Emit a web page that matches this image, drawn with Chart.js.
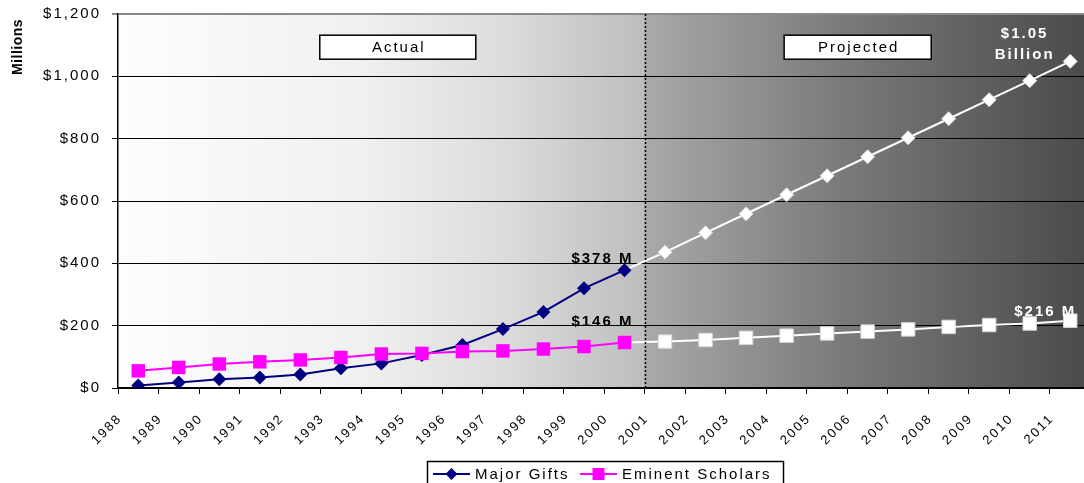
<!DOCTYPE html>
<html>
<head>
<meta charset="utf-8">
<script src="https://cdn.jsdelivr.net/npm/chart.js@4.4.1/dist/chart.umd.min.js"></script>
<style>
  html, body { margin: 0; padding: 0; background: #fff; }
  #wrap { width: 1084px; height: 483px; position: relative; }
</style>
</head>
<body>
<div id="wrap"><canvas id="chart"></canvas></div>
<script>
// tick labels on the x axis (one per tick boundary)
const years = ['1988','1989','1990','1991','1992','1993','1994','1995','1996','1997','1998','1999',
               '2000','2001','2002','2003','2004','2005','2006','2007','2008','2009','2010','2011'];
// $ millions, one value per year slot
const majorGifts = [8, 18, 28, 34, 43, 63, 79, 106, 138, 189, 244, 320, 378,
                    436, 498, 559, 620, 681, 742, 803, 864, 925, 986, 1048];
const eminentScholars = [55, 66, 77, 84, 90, 98, 109, 111, 117, 119, 125, 133, 146,
                         149, 154, 161, 168, 175, 181, 188, 196, 202, 207, 216];
const lastActual = 12;   // 2000 is the last actual value
const yMax = 1200, yStep = 200;

const FONT = 'Liberation Sans, Arial, sans-serif';

const pts = (arr, from, to) => arr.map((v, i) => (i >= from && i <= to) ? { x: i + 0.5, y: v } : null).filter(Boolean);

const decor = {
  id: 'decor',
  beforeDraw(chart) {
    const { ctx, chartArea: a } = chart;
    ctx.letterSpacing = '2px';
    const g = ctx.createLinearGradient(a.left, 0, a.right, 0);
    g.addColorStop(0, '#fdfdfd');
    g.addColorStop(0.25, '#f0f0f0');
    g.addColorStop(0.4, '#dcdcdc');
    g.addColorStop(0.544, '#bdbdbd');
    g.addColorStop(0.546, '#a9a9a9');
    g.addColorStop(0.75, '#7a7a7a');
    g.addColorStop(1, '#4b4b4b');
    ctx.save();
    ctx.fillStyle = g;
    ctx.fillRect(a.left, a.top, a.right - a.left, a.bottom - a.top);
    ctx.restore();
  },
  afterDatasetsDraw(chart) {
    const { ctx, chartArea: a, scales: { x, y } } = chart;
    ctx.save();
    ctx.letterSpacing = '2px';
    // divider between actual and projected
    const dx = Math.round(x.getPixelForValue(lastActual + 1)) + 0.5;
    ctx.strokeStyle = '#000';
    ctx.lineWidth = 1.5;
    ctx.setLineDash([2, 2]);
    ctx.beginPath(); ctx.moveTo(dx, a.top); ctx.lineTo(dx, a.bottom); ctx.stroke();
    ctx.setLineDash([]);

    // Actual / Projected boxes
    const box = (x0, x1, label) => {
      const l = x.getPixelForValue(x0), r = x.getPixelForValue(x1);
      const t = y.getPixelForValue(1132), b = y.getPixelForValue(1055);
      ctx.fillStyle = '#fff';
      ctx.fillRect(l, t, r - l, b - t);
      ctx.strokeStyle = '#000'; ctx.lineWidth = 1.5;
      ctx.strokeRect(l, t, r - l, b - t);
      ctx.fillStyle = '#000';
      ctx.font = '15px ' + FONT;
      ctx.textAlign = 'center'; ctx.textBaseline = 'middle';
      ctx.fillText(label, (l + r) / 2 + 1, (t + b) / 2 + 1);
    };
    box(4.98, 8.83, 'Actual');
    box(16.44, 20.07, 'Projected');

    // value callouts
    ctx.font = 'bold 15px ' + FONT;
    ctx.textAlign = 'center'; ctx.textBaseline = 'alphabetic';
    ctx.fillStyle = '#000';
    const cx = x.getPixelForValue(11.93) + 1;
    ctx.fillText('$' + majorGifts[lastActual] + ' M', cx, y.getPixelForValue(majorGifts[lastActual]) - 7);
    ctx.fillText('$' + eminentScholars[lastActual] + ' M', cx, y.getPixelForValue(eminentScholars[lastActual]) - 16);
    ctx.fillStyle = '#fff';
    ctx.fillText('$' + eminentScholars[23] + ' M', x.getPixelForValue(22.86) + 1, y.getPixelForValue(eminentScholars[23]) - 5);
    const bx = x.getPixelForValue(22.35) + 1;
    ctx.fillText('$1.05', bx, y.getPixelForValue(1122));
    ctx.fillText('Billion', bx, y.getPixelForValue(1056));

    // y axis title
    ctx.fillStyle = '#000';
    ctx.font = 'bold 14px ' + FONT;
    ctx.letterSpacing = '0.5px';
    ctx.translate(18, 47);
    ctx.rotate(-Math.PI / 2);
    ctx.textAlign = 'center'; ctx.textBaseline = 'middle';
    ctx.fillText('Millions', 0, 0);
    ctx.restore();
  },
  afterDraw(chart) {
    // legend
    const { ctx } = chart;
    ctx.save();
    ctx.letterSpacing = '2px';
    ctx.strokeStyle = '#000'; ctx.lineWidth = 1.5;
    ctx.fillStyle = '#fff';
    ctx.fillRect(427.5, 461.5, 356, 30);
    ctx.strokeRect(427.5, 461.5, 356, 30);
    ctx.font = '15px ' + FONT;
    ctx.textBaseline = 'middle'; ctx.textAlign = 'left';
    const ly = 474;
    const items = [
      { x: 433, label: 'Major Gifts', color: '#000080', shape: 'diamond' },
      { x: 580, label: 'Eminent Scholars', color: '#ff00ff', shape: 'square' }
    ];
    items.forEach(it => {
      ctx.strokeStyle = it.color; ctx.lineWidth = 2;
      ctx.beginPath(); ctx.moveTo(it.x, ly); ctx.lineTo(it.x + 37, ly); ctx.stroke();
      ctx.fillStyle = it.color;
      const mx = it.x + 18.5;
      if (it.shape === 'diamond') {
        ctx.beginPath();
        ctx.moveTo(mx, ly - 6); ctx.lineTo(mx + 6, ly); ctx.lineTo(mx, ly + 6); ctx.lineTo(mx - 6, ly);
        ctx.closePath(); ctx.fill();
      } else {
        ctx.fillRect(mx - 6, ly - 6, 12, 12);
      }
      ctx.fillStyle = '#000';
      ctx.fillText(it.label, it.x + 42, ly + 1);
    });
    ctx.restore();
  }
};

const projRadius = (r) => years.slice(lastActual).map((_, i) => i === 0 ? 0 : r);

new Chart(document.getElementById('chart'), {
  type: 'line',
  data: {
    datasets: [
      {
        label: 'Eminent Scholars',
        data: pts(eminentScholars, 0, lastActual),
        borderColor: '#ff00ff', backgroundColor: '#ff00ff',
        borderWidth: 2, pointStyle: 'rect', pointRadius: 9.5, pointBorderWidth: 0,
        order: 0
      },
      {
        label: 'Major Gifts',
        data: pts(majorGifts, 0, lastActual),
        borderColor: '#000080', backgroundColor: '#000080',
        borderWidth: 2, pointStyle: 'rectRot', pointRadius: 7, pointBorderWidth: 0,
        order: 1
      },
      {
        label: 'Eminent Scholars (projected)',
        data: pts(eminentScholars, lastActual, years.length - 1),
        borderColor: '#ffffff', backgroundColor: '#ffffff',
        borderWidth: 2, pointStyle: 'rect', pointRadius: projRadius(9.5),
        pointBorderColor: '#d8d8d8', pointBorderWidth: 1,
        order: 2
      },
      {
        label: 'Major Gifts (projected)',
        data: pts(majorGifts, lastActual, years.length - 1),
        borderColor: '#ffffff', backgroundColor: '#ffffff',
        borderWidth: 2, pointStyle: 'rectRot', pointRadius: projRadius(7),
        pointBorderColor: '#d8d8d8', pointBorderWidth: 1,
        order: 3
      }
    ]
  },
  options: {
    responsive: true,
    maintainAspectRatio: false,
    animation: false,
    layout: { autoPadding: false, padding: { top: 14, right: 0, left: 0, bottom: 0 } },
    plugins: { legend: { display: false }, tooltip: { enabled: false } },
    scales: {
      x: {
        type: 'linear',
        min: 0,
        max: 23.84,
        afterFit(s) { s.height = 95; s.paddingLeft = 0; s.paddingRight = 0; },
        afterBuildTicks(s) { s.ticks = years.map((_, i) => ({ value: i })); },
        ticks: {
          autoSkip: false,
          minRotation: 45, maxRotation: 45,
          padding: 17,
          labelOffset: 2,
          color: '#000',
          font: { family: FONT, size: 13 },
          callback: (v) => years[v] ?? ''
        },
        grid: { drawOnChartArea: false, drawTicks: true, tickLength: 6, color: '#000', lineWidth: 1 },
        border: { color: '#000', width: 1.5 }
      },
      y: {
        min: 0,
        max: yMax,
        afterFit(s) { s.width = 118; s.paddingTop = 0; s.paddingBottom = 0; },
        ticks: {
          stepSize: yStep,
          padding: 11,
          color: '#000',
          font: { family: FONT, size: 15 },
          callback: (v) => '$' + v.toLocaleString('en-US')
        },
        grid: {
          color: (c) => c.tick && c.tick.value === yMax ? '#8a8a8a' : '#000',
          lineWidth: (c) => c.tick && c.tick.value === yMax ? 2 : 1,
          tickLength: 6
        },
        border: { color: '#000', width: 1.5 }
      }
    }
  },
  plugins: [decor]
});
</script>
</body>
</html>
